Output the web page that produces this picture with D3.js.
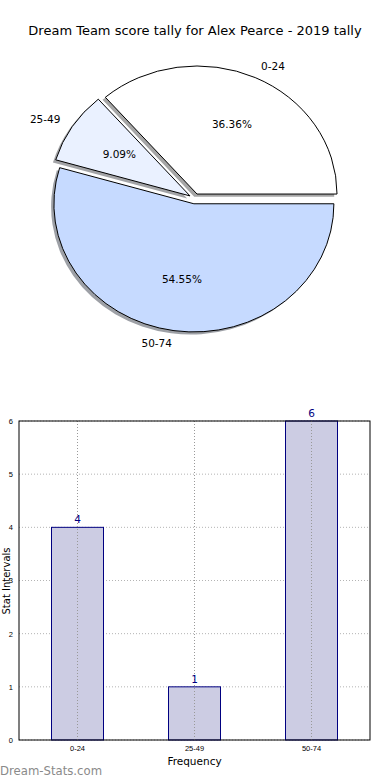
<!DOCTYPE html>
<html>
<head>
<meta charset="utf-8">
<script src="https://cdn.jsdelivr.net/npm/d3@7"></script>
<style>
  body { margin: 0; background: #fff; }
  svg { display: block; font-family: "DejaVu Sans", sans-serif; }
</style>
</head>
<body>
<div class="chart"></div>
<script>
var svgWidth = 390;
var svgHeight = 780;

// data
var categories = ["0-24", "25-49", "50-74"];
var counts = [4, 1, 6];
var pieColors = ["#ffffff", "#eaf1ff", "#c6daff"];
var yTicks = [0, 1, 2, 3, 4, 5, 6];
var titleText = "Dream Team score tally for Alex Pearce - 2019 tally";

var svg = d3.select(".chart")
  .append("svg")
  .attr("width", svgWidth)
  .attr("height", svgHeight);

svg.append("text")
  .attr("x", 195)
  .attr("y", 30)
  .attr("dy", "0.35em")
  .attr("text-anchor", "middle")
  .style("font-size", "13px")
  .text(titleText);

// ---------- pie (elliptical, like matplotlib without equal aspect)
var cx = 194.7, cy = 198.7, rx = 140, ry = 128;
var explode = 0.04;
var total = d3.sum(counts);

var pie = d3.pie().sort(null)
  .startAngle(Math.PI / 2)
  .endAngle(Math.PI / 2 - 2 * Math.PI);
var arcs = pie(counts);
var arc = d3.arc().innerRadius(0).outerRadius(1);

var pieGroup = svg.append("g");

arcs.forEach(function(d, i) {
  var mid = (d.startAngle + d.endAngle) / 2;
  var ux = Math.sin(mid), uy = -Math.cos(mid);
  var ox = cx + explode * rx * ux;
  var oy = cy + explode * ry * uy;
  var c = d3.rgb(pieColors[i]);
  var shade = d3.rgb(c.r * 0.3, c.g * 0.3, c.b * 0.3);

  pieGroup.append("path")
    .attr("d", arc(d))
    .attr("transform", `translate(${ox - 2.8}, ${oy + 2.6}) scale(${rx}, ${ry})`)
    .attr("fill", shade)
    .attr("fill-opacity", 0.5)
    .attr("stroke", "none");
});

arcs.forEach(function(d, i) {
  var mid = (d.startAngle + d.endAngle) / 2;
  var ux = Math.sin(mid), uy = -Math.cos(mid);
  var ox = cx + explode * rx * ux;
  var oy = cy + explode * ry * uy;

  pieGroup.append("path")
    .attr("d", arc(d))
    .attr("transform", `translate(${ox}, ${oy}) scale(${rx}, ${ry})`)
    .attr("fill", pieColors[i])
    .attr("stroke", "#000")
    .attr("stroke-width", 1)
    .attr("vector-effect", "non-scaling-stroke");

  // category label
  pieGroup.append("text")
    .attr("x", ox + 1.1 * rx * ux)
    .attr("y", oy + 1.1 * ry * uy)
    .attr("dy", "0.35em")
    .attr("text-anchor", ux > 0 ? "start" : "end")
    .style("font-size", "10.5px")
    .text(categories[i]);

  // percentage
  pieGroup.append("text")
    .attr("x", ox + 0.6 * rx * ux)
    .attr("y", oy + 0.6 * ry * uy)
    .attr("dy", "0.35em")
    .attr("text-anchor", "middle")
    .style("font-size", "10.5px")
    .text((d.value / total * 100).toFixed(2) + "%");
});

// ---------- bar chart
var plot = { left: 19, right: 370, top: 421, bottom: 740 };

var xScale = d3.scaleBand()
  .domain(categories)
  .range([plot.left, plot.right]);

var yScale = d3.scaleLinear()
  .domain([0, 6])
  .range([plot.bottom, plot.top]);

var barWidth = 52;
var barGroup = svg.append("g");

// grid
barGroup.selectAll(".hgrid")
  .data(yTicks)
  .enter()
  .append("line")
    .attr("x1", plot.left)
    .attr("x2", plot.right)
    .attr("y1", d => yScale(d))
    .attr("y2", d => yScale(d))
    .attr("stroke", "#b4b4b4")
    .attr("stroke-dasharray", "1,2");

// bars
barGroup.selectAll("rect.bar")
  .data(counts)
  .enter()
  .append("rect")
    .attr("class", "bar")
    .attr("x", (d, i) => xScale(categories[i]) + xScale.bandwidth() / 2 - barWidth / 2)
    .attr("y", d => yScale(d))
    .attr("width", barWidth)
    .attr("height", d => yScale(0) - yScale(d))
    .attr("fill", "#ccccE3")
    .attr("stroke", "#000080")
    .attr("stroke-width", 1);

// vertical grid drawn over bars
barGroup.selectAll(".vgrid")
  .data(categories)
  .enter()
  .append("line")
    .attr("x1", d => xScale(d) + xScale.bandwidth() / 2)
    .attr("x2", d => xScale(d) + xScale.bandwidth() / 2)
    .attr("y1", plot.top)
    .attr("y2", plot.bottom)
    .attr("stroke", "#999999")
    .attr("stroke-dasharray", "1,2");

// value labels
barGroup.selectAll("text.val")
  .data(counts)
  .enter()
  .append("text")
    .attr("class", "val")
    .attr("x", (d, i) => xScale(categories[i]) + xScale.bandwidth() / 2)
    .attr("y", d => yScale(d) - 4)
    .attr("text-anchor", "middle")
    .attr("fill", "#000080")
    .style("font-size", "10.5px")
    .text(d => d);

// axes
var leftAxis = d3.axisLeft(yScale).tickValues(yTicks).tickFormat(d3.format("d")).tickSize(0).tickPadding(6);
var bottomAxis = d3.axisBottom(xScale).tickSize(0).tickPadding(6);

var gy = svg.append("g")
  .attr("transform", `translate(${plot.left}, 0)`)
  .call(leftAxis);
gy.select(".domain").remove();
gy.selectAll("text").style("font-size", "7.5px").attr("fill", "#000");

var gx = svg.append("g")
  .attr("transform", `translate(0, ${plot.bottom})`)
  .call(bottomAxis);
gx.select(".domain").remove();
gx.selectAll("text").style("font-size", "7.5px").attr("fill", "#000");

// frame
svg.append("rect")
  .attr("x", plot.left)
  .attr("y", plot.top)
  .attr("width", plot.right - plot.left)
  .attr("height", plot.bottom - plot.top)
  .attr("fill", "none")
  .attr("stroke", "#000")
  .attr("stroke-width", 1);

svg.append("text")
  .attr("x", (plot.left + plot.right) / 2)
  .attr("y", 761)
  .attr("dy", "0.35em")
  .attr("text-anchor", "middle")
  .style("font-size", "10.5px")
  .text("Frequency");

svg.append("text")
  .attr("transform", "rotate(-90)")
  .attr("x", -581)
  .attr("y", 6)
  .attr("dy", "0.35em")
  .attr("text-anchor", "middle")
  .style("font-size", "10px")
  .text("Stat Intervals");

svg.append("text")
  .attr("x", 0)
  .attr("y", 771)
  .attr("dy", "0.35em")
  .attr("fill", "#8a8a8a")
  .style("font-size", "11.7px")
  .text("Dream-Stats.com");
</script>
</body>
</html>
